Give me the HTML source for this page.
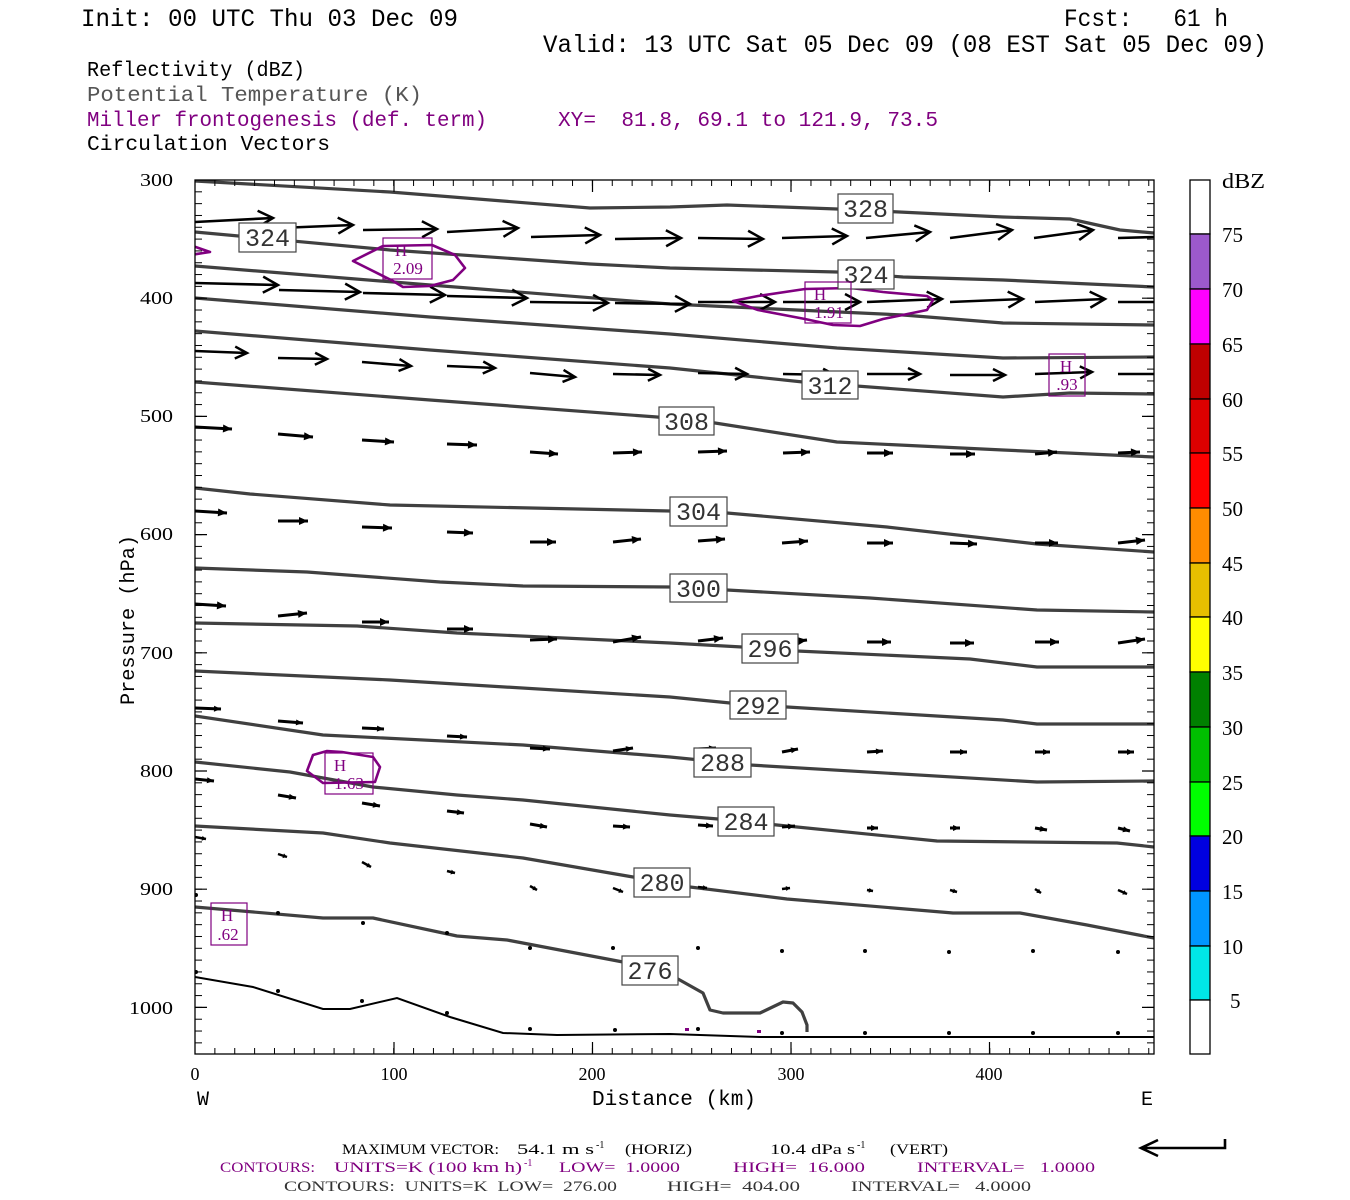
<!DOCTYPE html>
<html><head><meta charset="utf-8"><style>
html,body{margin:0;padding:0;background:#fff;}
svg{display:block;}
text{font-family:"Liberation Mono",monospace;}
.s text, text.s{font-family:"Liberation Serif",serif;}
</style></head><body>
<svg width="1350" height="1200" viewBox="0 0 1350 1200" xmlns="http://www.w3.org/2000/svg">
<defs>
<marker id="mL" markerUnits="userSpaceOnUse" markerWidth="20" markerHeight="20" viewBox="0 0 20 20" refX="16" refY="8" orient="auto" overflow="visible"><path d="M1,0 L16,8 L1,16" fill="none" stroke="#000" stroke-width="2.5"/></marker>
<marker id="mM" markerUnits="userSpaceOnUse" markerWidth="20" markerHeight="20" viewBox="0 0 20 20" refX="13" refY="6" orient="auto" overflow="visible"><path d="M1,0 L13,6 L1,12" fill="none" stroke="#000" stroke-width="2.5"/></marker>
<marker id="mS" markerUnits="userSpaceOnUse" markerWidth="20" markerHeight="20" viewBox="0 0 20 20" refX="9" refY="4" orient="auto" overflow="visible"><path d="M0,0 L9,4 L0,8z" fill="#000"/></marker>
<marker id="mT" markerUnits="userSpaceOnUse" markerWidth="20" markerHeight="20" viewBox="0 0 20 20" refX="7" refY="3" orient="auto" overflow="visible"><path d="M0,0 L7,3 L0,6z" fill="#000"/></marker>
<marker id="mX" markerUnits="userSpaceOnUse" markerWidth="20" markerHeight="20" viewBox="0 0 20 20" refX="4" refY="2.5" orient="auto" overflow="visible"><path d="M0,0 L4,2.5 L0,5z" fill="#000"/></marker>
<clipPath id="cp"><rect x="195" y="180" width="959" height="874"/></clipPath>
<pattern id="pl" patternUnits="userSpaceOnUse" x="195" y="179.5" width="8" height="11.82"><rect x="0" y="0" width="7" height="1" fill="#000"/></pattern>
<pattern id="pr" patternUnits="userSpaceOnUse" x="1147" y="179.5" width="8" height="11.82"><rect x="0" y="0" width="7" height="1" fill="#000"/></pattern>
<pattern id="pt" patternUnits="userSpaceOnUse" x="194.5" y="180" width="19.87" height="8"><rect x="0" y="0" width="1" height="6" fill="#000"/></pattern>
<pattern id="pb" patternUnits="userSpaceOnUse" x="194.5" y="1048" width="19.87" height="8"><rect x="0" y="0" width="1" height="6" fill="#000"/></pattern>
</defs>

<text x="81" y="26" font-size="25" textLength="377" lengthAdjust="spacingAndGlyphs">Init: 00 UTC Thu 03 Dec 09</text>
<text x="1064" y="26" font-size="25" textLength="164" lengthAdjust="spacingAndGlyphs" xml:space="preserve">Fcst:   61 h</text>
<text x="543" y="52" font-size="25" textLength="724" lengthAdjust="spacingAndGlyphs">Valid: 13 UTC Sat 05 Dec 09 (08 EST Sat 05 Dec 09)</text>
<text x="87" y="76" font-size="21" textLength="218" lengthAdjust="spacingAndGlyphs">Reflectivity (dBZ)</text>
<text x="87" y="101" font-size="21" fill="#555" textLength="335" lengthAdjust="spacingAndGlyphs">Potential Temperature (K)</text>
<text x="87" y="126" font-size="21" fill="#800080" textLength="400" lengthAdjust="spacingAndGlyphs">Miller frontogenesis (def. term)</text>
<text x="558" y="126" font-size="21" fill="#800080" textLength="380" lengthAdjust="spacingAndGlyphs" xml:space="preserve">XY=  81.8, 69.1 to 121.9, 73.5</text>
<text x="87" y="150" font-size="21" textLength="243" lengthAdjust="spacingAndGlyphs">Circulation Vectors</text>

<g clip-path="url(#cp)">
<g fill="none" stroke="#404040" stroke-width="3.2" stroke-linejoin="round">
<polyline points="195,181 390,192 590,208 670,207 727,205 837,209 1003,217 1070,219 1120,230 1154,233"/>
<polyline points="195,232 390,250 590,264 670,268 837,272 903,277 1003,280 1154,287"/>
<polyline points="195,266 430,285 670,304 903,315 1003,323 1154,325"/>
<polyline points="195,298 430,317 670,334 837,348 1003,358 1154,357"/>
<polyline points="195,331 430,350 670,368 803,382 1003,397 1070,393 1154,394"/>
<polyline points="195,382 430,400 657,417 715,423 837,442 1003,450 1154,457"/>
<polyline points="195,488 250,494 390,505 670,511 727,513 887,527 1037,544 1154,552"/>
<polyline points="195,568 307,572 440,582 523,586 670,587 727,590 870,598 1037,610 1154,612"/>
<polyline points="195,623 357,626 457,633 670,643 742,647 797,651 970,659 1037,667 1154,667"/>
<polyline points="195,671 390,680 670,697 730,703 787,707 1003,720 1037,724 1154,724"/>
<polyline points="195,716 323,735 523,745 670,757 750,765 1037,782 1154,781"/>
<polyline points="195,762 290,772 373,787 457,795 523,800 670,815 718,819 777,825 937,841 1117,843 1154,847"/>
<polyline points="195,826 323,833 390,843 523,858 633,877 690,887 787,899 953,913 1020,913 1087,925 1154,938"/>
<polyline points="195,907 323,918 373,918 457,936 507,940 623,962 678,979 703,993 710,1010 723,1013 760,1013 783,1002 793,1003 802,1012 807,1025 807,1032"/>
</g>
<polyline points="195,977 253,987 323,1009 350,1009 397,998 450,1017 503,1033 557,1035 670,1034 700,1035 760,1037 1154,1037" fill="none" stroke="#000" stroke-width="2"/>

<g stroke="#000" stroke-width="2.6" fill="none">
<g marker-end="url(#mL)">
<line x1="195" y1="222" x2="273" y2="218"/><line x1="279" y1="228" x2="353" y2="225"/><line x1="363" y1="230" x2="437" y2="229"/><line x1="447" y1="232" x2="518" y2="228"/><line x1="531" y1="237" x2="600" y2="235"/><line x1="615" y1="239" x2="681" y2="238"/><line x1="698" y1="238" x2="763" y2="239"/><line x1="782" y1="238" x2="847" y2="236"/><line x1="866" y1="238" x2="930" y2="232"/><line x1="950" y1="238" x2="1012" y2="230"/><line x1="1034" y1="238" x2="1093" y2="230"/>
<line x1="195" y1="283" x2="278" y2="285"/><line x1="279" y1="290" x2="360" y2="292"/><line x1="363" y1="293" x2="445" y2="295"/><line x1="447" y1="296" x2="527" y2="298"/><line x1="530" y1="302" x2="608" y2="303"/><line x1="615" y1="303" x2="690" y2="304"/><line x1="698" y1="302" x2="775" y2="302"/><line x1="783" y1="302" x2="860" y2="302"/><line x1="867" y1="302" x2="942" y2="299"/><line x1="950" y1="302" x2="1023" y2="299"/><line x1="1035" y1="302" x2="1105" y2="299"/>
</g>
<line x1="1118" y1="238" x2="1154" y2="237"/><line x1="1118" y1="302" x2="1154" y2="302"/><line x1="1118" y1="374" x2="1154" y2="374"/>
<g marker-end="url(#mM)">
<line x1="195" y1="351" x2="247" y2="353"/><line x1="278" y1="358" x2="327" y2="359"/><line x1="362" y1="362" x2="411" y2="366"/><line x1="447" y1="366" x2="495" y2="368"/><line x1="530" y1="373" x2="575" y2="377"/><line x1="613" y1="374" x2="660" y2="375"/><line x1="698" y1="373" x2="747" y2="374"/><line x1="783" y1="374" x2="835" y2="375"/><line x1="867" y1="374" x2="920" y2="374"/><line x1="950" y1="375" x2="1005" y2="375"/><line x1="1035" y1="374" x2="1092" y2="372"/>
</g>
<g marker-end="url(#mS)" stroke-width="3">
<line x1="195" y1="427" x2="232" y2="429"/><line x1="278" y1="434" x2="313" y2="437"/><line x1="362" y1="440" x2="394" y2="442"/><line x1="447" y1="444" x2="477" y2="445"/><line x1="530" y1="452" x2="558" y2="454"/><line x1="613" y1="453" x2="642" y2="452"/><line x1="698" y1="452" x2="727" y2="451"/><line x1="783" y1="453" x2="810" y2="452"/><line x1="867" y1="453" x2="893" y2="453"/><line x1="950" y1="454" x2="975" y2="454"/><line x1="1035" y1="454" x2="1057" y2="452"/><line x1="1118" y1="453" x2="1140" y2="452"/>
<line x1="195" y1="511" x2="227" y2="513"/><line x1="278" y1="521" x2="308" y2="521"/><line x1="362" y1="527" x2="392" y2="528"/><line x1="447" y1="532" x2="473" y2="533"/><line x1="530" y1="542" x2="556" y2="542"/><line x1="613" y1="542" x2="641" y2="539"/><line x1="698" y1="541" x2="725" y2="539"/><line x1="782" y1="543" x2="808" y2="541"/><line x1="867" y1="543" x2="893" y2="543"/><line x1="950" y1="543" x2="977" y2="544"/><line x1="1035" y1="543" x2="1058" y2="543"/><line x1="1118" y1="543" x2="1145" y2="540"/>
<line x1="195" y1="604" x2="226" y2="606"/><line x1="278" y1="616" x2="307" y2="613"/><line x1="362" y1="622" x2="389" y2="622"/><line x1="447" y1="629" x2="473" y2="629"/><line x1="530" y1="640" x2="557" y2="639"/><line x1="613" y1="642" x2="641" y2="637"/><line x1="698" y1="641" x2="723" y2="638"/><line x1="782" y1="643" x2="807" y2="640"/><line x1="867" y1="642" x2="891" y2="642"/><line x1="950" y1="643" x2="974" y2="643"/><line x1="1035" y1="642" x2="1059" y2="642"/><line x1="1118" y1="643" x2="1145" y2="639"/>
</g>
<g marker-end="url(#mT)" stroke-width="3">
<line x1="195" y1="708" x2="221" y2="709"/><line x1="278" y1="721" x2="303" y2="723"/><line x1="362" y1="728" x2="384" y2="729"/><line x1="447" y1="736" x2="467" y2="737"/><line x1="530" y1="748" x2="550" y2="749"/><line x1="613" y1="751" x2="633" y2="748"/><line x1="698" y1="749" x2="716" y2="748"/><line x1="782" y1="752" x2="798" y2="749"/><line x1="867" y1="752" x2="883" y2="751"/><line x1="950" y1="752" x2="967" y2="752"/><line x1="1035" y1="752" x2="1050" y2="752"/><line x1="1118" y1="752" x2="1134" y2="752"/>
<line x1="195" y1="779" x2="214" y2="781"/><line x1="278" y1="795" x2="296" y2="798"/><line x1="362" y1="803" x2="380" y2="806"/><line x1="447" y1="811" x2="464" y2="813"/><line x1="530" y1="824" x2="547" y2="827"/><line x1="613" y1="826" x2="630" y2="827"/><line x1="698" y1="825" x2="713" y2="826"/><line x1="782" y1="827" x2="795" y2="826"/><line x1="867" y1="828" x2="878" y2="828"/><line x1="950" y1="828" x2="960" y2="828"/><line x1="1035" y1="828" x2="1047" y2="830"/><line x1="1118" y1="828" x2="1130" y2="831"/>
</g>
<g marker-end="url(#mX)" stroke-width="2.5">
<line x1="195" y1="837" x2="206" y2="839"/><line x1="278" y1="854" x2="287" y2="857"/><line x1="362" y1="862" x2="371" y2="867"/><line x1="447" y1="871" x2="455" y2="873"/><line x1="530" y1="886" x2="537" y2="890"/><line x1="613" y1="888" x2="623" y2="892"/><line x1="698" y1="887" x2="707" y2="888"/><line x1="782" y1="889" x2="790" y2="888"/><line x1="867" y1="890" x2="873" y2="891"/><line x1="950" y1="890" x2="957" y2="892"/><line x1="1035" y1="889" x2="1041" y2="893"/><line x1="1118" y1="890" x2="1127" y2="894"/>
</g>
</g>
<g fill="#000">
<circle cx="196" cy="895" r="2"/><circle cx="278" cy="913" r="2"/><circle cx="363" cy="923" r="2"/><circle cx="447" cy="933" r="2"/><circle cx="530" cy="948" r="2"/><circle cx="613" cy="948" r="2"/><circle cx="698" cy="948" r="2"/><circle cx="782" cy="951" r="2"/><circle cx="865" cy="951" r="2"/><circle cx="949" cy="952" r="2"/><circle cx="1033" cy="951" r="2"/><circle cx="1118" cy="952" r="2"/>
<circle cx="196" cy="972" r="2"/><circle cx="278" cy="991" r="2"/><circle cx="362" cy="1001" r="2"/><circle cx="447" cy="1013" r="2"/><circle cx="530" cy="1029" r="2"/><circle cx="615" cy="1030" r="2"/><circle cx="698" cy="1029" r="2"/><circle cx="782" cy="1033" r="2"/><circle cx="865" cy="1033" r="2"/><circle cx="949" cy="1033" r="2"/><circle cx="1033" cy="1033" r="2"/><circle cx="1118" cy="1033" r="2"/>
</g>
<rect x="685" y="1028" width="4" height="3" fill="#800080"/><rect x="757" y="1030" width="4" height="3" fill="#800080"/>

<g fill="none" stroke="#800080" stroke-width="2.6" stroke-linejoin="round">
<polyline points="190,245 210,252 190,255"/>
<polygon points="353,261 383,246 432,245 455,255 465,268 453,280 430,286 403,287 393,281"/>
<polygon points="733,301 758,296 805,289 851,288 883,292 927,296 933,300 927,310 883,319 860,326 833,325 805,319 758,310"/>
<polygon points="313,755 327,751 342,752 373,757 380,767 375,782 323,783 307,771"/>
</g>
</g>

<g fill="#fff" stroke="#444" stroke-width="1.2">
<rect x="239" y="223" width="57" height="29"/><rect x="838" y="194" width="55" height="29"/><rect x="838" y="260" width="56" height="29"/><rect x="802" y="371" width="56" height="28"/><rect x="659" y="407" width="55" height="28"/><rect x="670" y="497" width="57" height="29"/><rect x="670" y="574" width="57" height="28"/><rect x="742" y="634" width="56" height="29"/><rect x="730" y="691" width="56" height="28"/><rect x="694" y="748" width="57" height="29"/><rect x="718" y="807" width="56" height="29"/><rect x="634" y="868" width="56" height="29"/><rect x="622" y="956" width="56" height="29"/>
</g>
<g font-size="25" fill="#333" text-anchor="middle">
<text x="267.5" y="246">324</text><text x="865.5" y="217">328</text><text x="866" y="283">324</text><text x="830" y="394">312</text><text x="686.5" y="430">308</text><text x="698.5" y="520">304</text><text x="698.5" y="597">300</text><text x="770" y="657">296</text><text x="758" y="714">292</text><text x="722.5" y="771">288</text><text x="746" y="830">284</text><text x="662" y="891">280</text><text x="650" y="979">276</text>
</g>

<g fill="none" stroke="#800080" stroke-width="1.2">
<rect x="383" y="238" width="49" height="41"/><rect x="805" y="282" width="46" height="41"/><rect x="1049" y="354" width="36" height="42"/><rect x="325" y="753" width="48" height="41"/><rect x="211" y="903" width="36" height="42"/>
</g>
<g class="s" font-size="17" fill="#800080" text-anchor="middle">
<text x="401" y="256">H</text><text x="408" y="274">2.09</text>
<text x="820" y="300">H</text><text x="829" y="318">1.91</text>
<text x="1066" y="372">H</text><text x="1067" y="390">.93</text>
<text x="340" y="771">H</text><text x="349" y="789">1.63</text>
<text x="227" y="921">H</text><text x="228" y="940">.62</text>
</g>

<rect x="195" y="180" width="8" height="874" fill="url(#pl)"/>
<rect x="1147" y="180" width="8" height="874" fill="url(#pr)"/>
<rect x="195" y="180" width="959" height="8" fill="url(#pt)"/>
<rect x="195" y="1048" width="959" height="7" fill="url(#pb)"/>
<g stroke="#000" stroke-width="1.2">
<path d="M195,298.2h12M195,416.4h12M195,534.6h12M195,652.8h12M195,771h12M195,889.2h12M195,1007.4h12M1154,298.2h-12M1154,416.4h-12M1154,534.6h-12M1154,652.8h-12M1154,771h-12M1154,889.2h-12M1154,1007.4h-12"/>
<path d="M394,180v12M592.5,180v12M791,180v12M989.5,180v12M394,1054v-12M592.5,1054v-12M791,1054v-12M989.5,1054v-12"/>
</g>
<rect x="195" y="180" width="959" height="874" fill="none" stroke="#000" stroke-width="1.3"/>

<g font-size="18" class="s">
<text x="140" y="186" textLength="33" lengthAdjust="spacingAndGlyphs">300</text>
<text x="140" y="304" textLength="33" lengthAdjust="spacingAndGlyphs">400</text>
<text x="140" y="422" textLength="33" lengthAdjust="spacingAndGlyphs">500</text>
<text x="140" y="540" textLength="33" lengthAdjust="spacingAndGlyphs">600</text>
<text x="140" y="659" textLength="33" lengthAdjust="spacingAndGlyphs">700</text>
<text x="140" y="777" textLength="33" lengthAdjust="spacingAndGlyphs">800</text>
<text x="140" y="895" textLength="33" lengthAdjust="spacingAndGlyphs">900</text>
<text x="129" y="1014" textLength="44" lengthAdjust="spacingAndGlyphs">1000</text>
<text x="195" y="1080" text-anchor="middle">0</text>
<text x="394" y="1080" text-anchor="middle">100</text>
<text x="592" y="1080" text-anchor="middle">200</text>
<text x="791" y="1080" text-anchor="middle">300</text>
<text x="989" y="1080" text-anchor="middle">400</text>
</g>
<text x="197" y="1105" font-size="20">W</text>
<text x="1141" y="1105" font-size="20">E</text>
<text x="592" y="1105" font-size="21" textLength="164" lengthAdjust="spacingAndGlyphs">Distance (km)</text>
<text transform="translate(134,705) rotate(-90)" font-size="20" textLength="170" lengthAdjust="spacingAndGlyphs">Pressure (hPa)</text>

<g stroke="#000" stroke-width="1.3">
<rect x="1190" y="180" width="20" height="54" fill="#fff"/>
<rect x="1190" y="234" width="20" height="55" fill="#9c59cc"/>
<rect x="1190" y="289" width="20" height="55" fill="#ff00ff"/>
<rect x="1190" y="344" width="20" height="55" fill="#c00000"/>
<rect x="1190" y="399" width="20" height="54" fill="#dc0000"/>
<rect x="1190" y="453" width="20" height="55" fill="#ff0000"/>
<rect x="1190" y="508" width="20" height="55" fill="#ff8c00"/>
<rect x="1190" y="563" width="20" height="54" fill="#e6bf00"/>
<rect x="1190" y="617" width="20" height="55" fill="#ffff00"/>
<rect x="1190" y="672" width="20" height="55" fill="#008000"/>
<rect x="1190" y="727" width="20" height="55" fill="#00c000"/>
<rect x="1190" y="782" width="20" height="54" fill="#00ff00"/>
<rect x="1190" y="836" width="20" height="55" fill="#0000e0"/>
<rect x="1190" y="891" width="20" height="55" fill="#0096ff"/>
<rect x="1190" y="946" width="20" height="54" fill="#00e6e6"/>
<rect x="1190" y="1000" width="20" height="54" fill="#fff"/>
</g>
<g font-size="21" class="s">
<text x="1222" y="188" textLength="43" lengthAdjust="spacingAndGlyphs">dBZ</text>
<text x="1222" y="242">75</text><text x="1222" y="297">70</text><text x="1222" y="352">65</text><text x="1222" y="407">60</text><text x="1222" y="461">55</text><text x="1222" y="516">50</text><text x="1222" y="571">45</text><text x="1222" y="625">40</text><text x="1222" y="680">35</text><text x="1222" y="735">30</text><text x="1222" y="790">25</text><text x="1222" y="844">20</text><text x="1222" y="899">15</text><text x="1222" y="954">10</text><text x="1230" y="1008">5</text>
</g>

<g class="s" font-size="15">
<text x="342" y="1154" textLength="157" lengthAdjust="spacingAndGlyphs">MAXIMUM VECTOR:</text>
<text x="517" y="1154" textLength="77" lengthAdjust="spacingAndGlyphs">54.1 m s</text>
<text x="596" y="1148" font-size="10">-1</text>
<text x="625" y="1154" textLength="67" lengthAdjust="spacingAndGlyphs">(HORIZ)</text>
<text x="770" y="1154" textLength="85" lengthAdjust="spacingAndGlyphs">10.4 dPa s</text>
<text x="857" y="1148" font-size="10">-1</text>
<text x="890" y="1154" textLength="58" lengthAdjust="spacingAndGlyphs">(VERT)</text>
<g fill="#800080">
<text x="220" y="1172" textLength="95" lengthAdjust="spacingAndGlyphs">CONTOURS:</text>
<text x="334" y="1172" textLength="188" lengthAdjust="spacingAndGlyphs">UNITS=K (100 km h)</text>
<text x="524" y="1166" font-size="10">-1</text>
<text x="559" y="1172" textLength="121" lengthAdjust="spacingAndGlyphs" xml:space="preserve">LOW=  1.0000</text>
<text x="733" y="1172" textLength="132" lengthAdjust="spacingAndGlyphs" xml:space="preserve">HIGH=  16.000</text>
<text x="917" y="1172" textLength="178" lengthAdjust="spacingAndGlyphs" xml:space="preserve">INTERVAL=   1.0000</text>
</g>
<g fill="#333">
<text x="284" y="1191" textLength="333" lengthAdjust="spacingAndGlyphs" xml:space="preserve">CONTOURS:  UNITS=K  LOW=  276.00</text>
<text x="667" y="1191" textLength="133" lengthAdjust="spacingAndGlyphs" xml:space="preserve">HIGH=  404.00</text>
<text x="851" y="1191" textLength="180" lengthAdjust="spacingAndGlyphs" xml:space="preserve">INTERVAL=   4.0000</text>
</g>
</g>
<path d="M1225,1139 V1148 H1141 M1158,1140 L1141,1148 L1158,1156" fill="none" stroke="#000" stroke-width="2.6"/>
</svg>
</body></html>
